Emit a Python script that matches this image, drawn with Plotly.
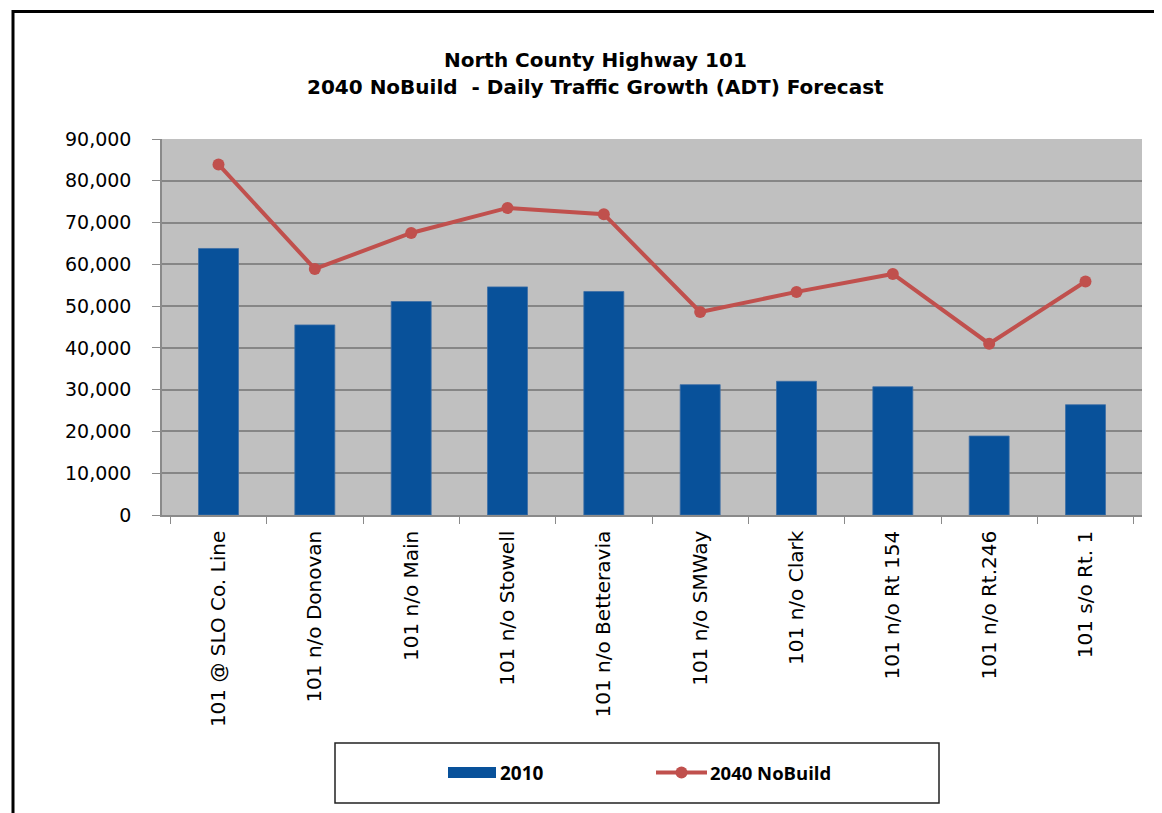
import plotly.graph_objects as go

# ---- data ----
locations = ["101 @ SLO Co. Line", "101 n/o Donovan", "101 n/o Main", "101 n/o Stowell",
             "101 n/o Betteravia", "101 n/o SMWay", "101 n/o Clark", "101 n/o Rt 154",
             "101 n/o Rt.246", "101 s/o Rt. 1"]
adt_2010 = [63800, 45500, 51100, 54600, 53500, 31200, 32000, 30700, 18900, 26400]
adt_2040_nobuild = [83900, 58900, 67500, 73500, 72000, 48600, 53400, 57700, 41000, 55900]
y_ticks = [0, 10000, 20000, 30000, 40000, 50000, 60000, 70000, 80000, 90000]
series_names = ["2010", "2040 NoBuild"]
title_lines = ["North County Highway 101", "2040 NoBuild  - Daily Traffic Growth (ADT) Forecast"]

BAR_COLOR = "#08519a"
LINE_COLOR = "#c0504d"

# page offset (browser body margin)
OFF = 8
W, H = 1162 - OFF, 813 - OFF
# plot area in page pixels: x 162..1142, y 139..515
L, R = 162 - OFF, 1162 - 1142
T, B = 139 - OFF, 813 - 515
PW = W - L - R
PH = H - T - B


def px(x):
    return (x - OFF - L) / PW


def py(y):
    return (H - B - (y - OFF)) / PH


fig = go.Figure()
fig.add_trace(go.Bar(
    x=locations, y=adt_2010, name=series_names[0],
    marker=dict(color=BAR_COLOR, line=dict(color="#3d6fa6", width=0.8)),
    showlegend=False,
))
fig.add_trace(go.Scatter(
    x=locations, y=adt_2040_nobuild, name=series_names[1], mode="lines+markers",
    line=dict(color=LINE_COLOR, width=4),
    marker=dict(color=LINE_COLOR, size=12),
    showlegend=False,
))

shapes = []
annotations = []

# outer frame
shapes.append(dict(type="rect", xref="paper", yref="paper",
                   x0=px(13), x1=px(1175), y0=py(11.5), y1=py(840),
                   line=dict(color="black", width=3), fillcolor="rgba(0,0,0,0)", layer="below"))

# title (two lines)
for line_text, yc in zip(title_lines, [60, 87.5]):
    annotations.append(dict(xref="paper", yref="paper", x=px(595), y=py(yc),
                            xanchor="center", yanchor="middle", showarrow=False,
                            text=line_text,
                            font=dict(family="DejaVu Sans", size=20, color="black", weight="bold")))

# legend (manual)
shapes.append(dict(type="rect", xref="paper", yref="paper",
                   x0=px(335), x1=px(939), y0=py(743), y1=py(803),
                   line=dict(color="#222222", width=1.5), fillcolor="white"))
shapes.append(dict(type="rect", xref="paper", yref="paper",
                   x0=px(448), x1=px(496), y0=py(767), y1=py(778),
                   line=dict(width=0), fillcolor=BAR_COLOR))
shapes.append(dict(type="line", xref="paper", yref="paper",
                   x0=px(656), x1=px(707), y0=py(772.5), y1=py(772.5),
                   line=dict(color=LINE_COLOR, width=4)))
shapes.append(dict(type="circle", xref="paper", yref="paper",
                   x0=px(675.5), x1=px(687.5), y0=py(766.5), y1=py(778.5),
                   line=dict(width=0), fillcolor=LINE_COLOR))
annotations.append(dict(xref="paper", yref="paper", x=px(498), y=py(772.5),
                        xanchor="left", yanchor="middle", showarrow=False, text=series_names[0],
                        font=dict(family="Open Sans", size=19, color="black", weight="bold")))
annotations.append(dict(xref="paper", yref="paper", x=px(708), y=py(772.5),
                        xanchor="left", yanchor="middle", showarrow=False, text=series_names[1],
                        font=dict(family="Open Sans", size=18.5, color="black", weight="bold")))

fig.update_layout(
    width=W, height=H,
    margin=dict(l=L, r=R, t=T, b=B, autoexpand=False),
    paper_bgcolor="white",
    plot_bgcolor="#c0c0c0",
    bargap=0.585,
    showlegend=False,
    shapes=shapes,
    annotations=annotations,
    xaxis=dict(
        type="category", tickangle=-90, tickson="boundaries",
        ticks="outside", ticklen=7, tickcolor="#8a8a8a", tickwidth=1.2,
        showline=True, linecolor="#8a8a8a", linewidth=1.5,
        showgrid=False, ticklabelstandoff=6,
        tickfont=dict(family="DejaVu Sans", size=20, color="black"),
    ),
    yaxis=dict(
        range=[0, 90000], tickvals=y_ticks, tickformat=",d",
        ticks="outside", ticklen=8, tickcolor="#8a8a8a", tickwidth=1.2,
        showline=True, linecolor="#8a8a8a", linewidth=1.5,
        showgrid=True, gridcolor="#868686", gridwidth=1.6,
        zeroline=False, ticklabelstandoff=17,
        tickfont=dict(family="DejaVu Sans", size=19, color="black"),
    ),
)

fig.write_html("out.html")
